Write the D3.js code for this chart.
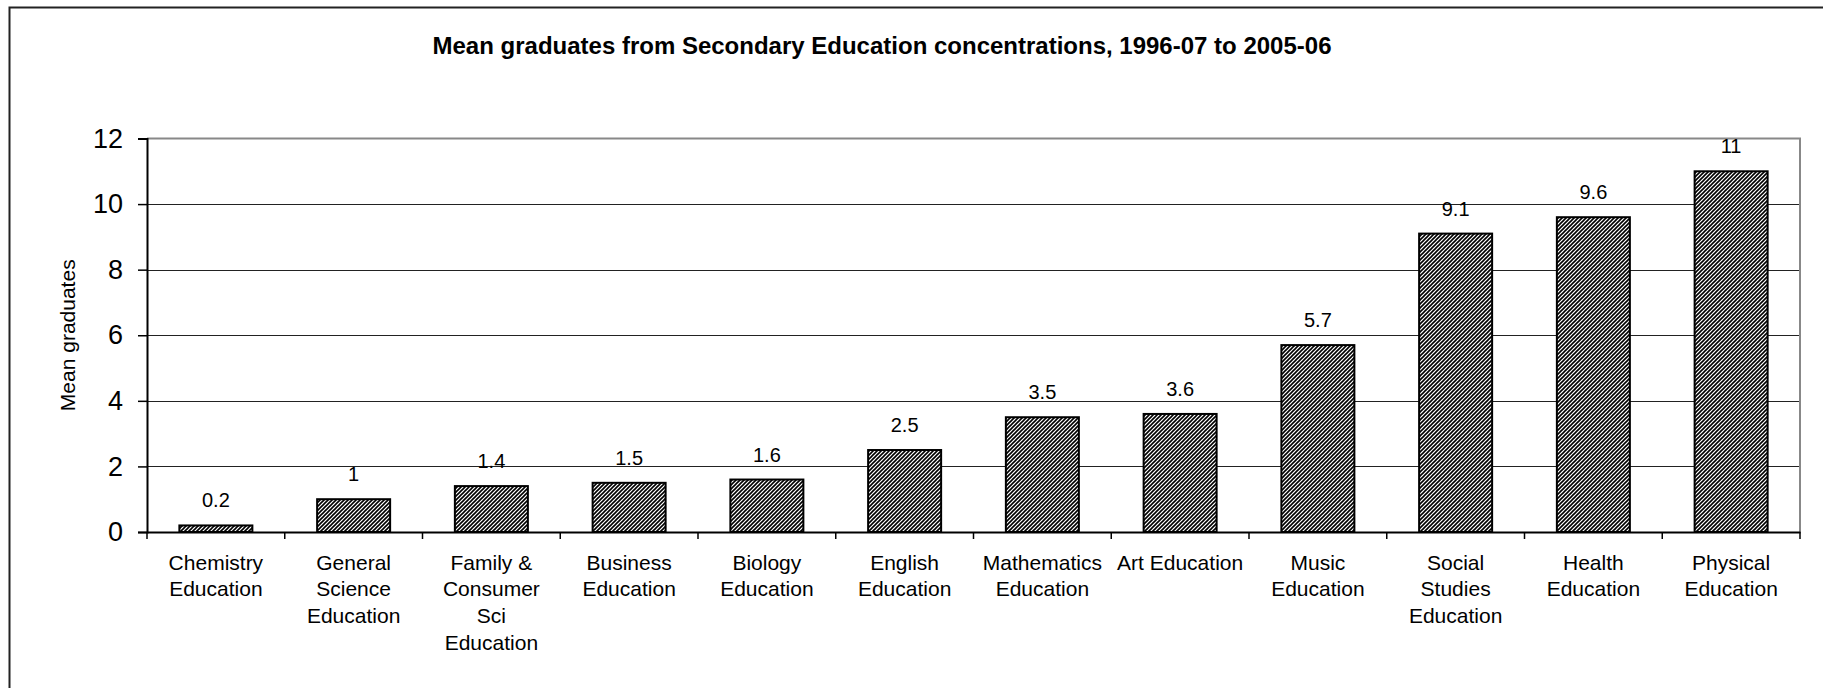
<!DOCTYPE html>
<html>
<head>
<meta charset="utf-8">
<script src="https://cdn.jsdelivr.net/npm/d3@7"></script>
<style>
  html, body { margin: 0; padding: 0; background: #fff; }
  svg { display: block; }
  text { font-family: "Liberation Sans", Arial, sans-serif; fill: #000; }
</style>
</head>
<body>
<svg id="chart" width="1823" height="688"></svg>
<script>
// ---- Data ----
const categories = [
  "Chemistry\nEducation",
  "General\nScience\nEducation",
  "Family &\nConsumer\nSci\nEducation",
  "Business\nEducation",
  "Biology\nEducation",
  "English\nEducation",
  "Mathematics\nEducation",
  "Art Education",
  "Music\nEducation",
  "Social\nStudies\nEducation",
  "Health\nEducation",
  "Physical\nEducation"
];
const values = [0.2, 1, 1.4, 1.5, 1.6, 2.5, 3.5, 3.6, 5.7, 9.1, 9.6, 11];
const valueLabels = ["0.2", "1", "1.4", "1.5", "1.6", "2.5", "3.5", "3.6", "5.7", "9.1", "9.6", "11"];
const yTicks = [0, 2, 4, 6, 8, 10, 12];
const titleText = "Mean graduates from Secondary Education concentrations, 1996-07 to 2005-06";
const yTitle = "Mean graduates";

// ---- Layout ----
const W = 1823, H = 688;
const plot = { left: 147, right: 1800, top: 138.5, bottom: 532 };

const svg = d3.select("#chart");

// pattern
const defs = svg.append("defs");
const pat = defs.append("pattern")
  .attr("id", "hatch")
  .attr("patternUnits", "userSpaceOnUse")
  .attr("width", 4).attr("height", 4);
pat.append("rect").attr("width", 4).attr("height", 4).attr("fill", "#fff");
pat.append("path")
  .attr("d", "M-1,1 L1,-1 M0,4 L4,0 M3,5 L5,3")
  .attr("stroke", "#000").attr("stroke-width", 1.6);

// outer border (left + top visible)
svg.append("path")
  .attr("d", `M9.5,${H} L9.5,7.5 L${W},7.5`)
  .attr("fill", "none").attr("stroke", "#222").attr("stroke-width", 2);

// scales
const x = d3.scaleBand().domain(categories).range([plot.left, plot.right]).padding(0);
const y = d3.scaleLinear().domain([0, 12]).range([plot.bottom, plot.top]);

// gridlines
svg.append("g").selectAll("line")
  .data(yTicks.filter(t => t > 0 && t < 12))
  .join("line")
  .attr("x1", plot.left).attr("x2", plot.right)
  .attr("y1", d => Math.round(y(d)) + 0.5).attr("y2", d => Math.round(y(d)) + 0.5)
  .attr("stroke", "#222").attr("stroke-width", 1);

// plot area border top & right (grey)
svg.append("path")
  .attr("d", `M${plot.left},${y(12)} L${plot.right},${y(12)} L${plot.right},${plot.bottom}`)
  .attr("fill", "none").attr("stroke", "#888").attr("stroke-width", 2);

// bars
const barW = x.bandwidth() * 0.53;
svg.append("g").selectAll("rect")
  .data(values)
  .join("rect")
  .attr("x", (d, i) => x(categories[i]) + (x.bandwidth() - barW) / 2)
  .attr("y", d => y(d))
  .attr("width", barW)
  .attr("height", d => y(0) - y(d))
  .attr("fill", "url(#hatch)")
  .attr("stroke", "#000").attr("stroke-width", 2);

// value labels
svg.append("g").selectAll("text")
  .data(values)
  .join("text")
  .attr("x", (d, i) => x(categories[i]) + x.bandwidth() / 2)
  .attr("y", d => y(d) - 18)
  .attr("text-anchor", "middle")
  .attr("font-size", 20)
  .text((d, i) => valueLabels[i]);

// y axis
const yAxis = d3.axisLeft(y).tickValues(yTicks).tickFormat(d3.format("d")).tickSize(9).tickPadding(15);
const gy = svg.append("g").attr("transform", `translate(${plot.left},0)`).call(yAxis);
gy.select(".domain").attr("stroke", "#000").attr("stroke-width", 2);
gy.selectAll(".tick line").attr("stroke", "#000").attr("stroke-width", 1.5);
gy.selectAll(".tick text").attr("font-size", 27).attr("font-family", "Liberation Sans, Arial, sans-serif").attr("fill", "#000");

// x axis
const xAxis = d3.axisBottom(x).tickSize(0).tickFormat("");
const gx = svg.append("g").attr("transform", `translate(0,${plot.bottom})`).call(xAxis);
gx.select(".domain").attr("stroke", "#000").attr("stroke-width", 2);
gx.selectAll(".tick").remove();
// category boundary ticks
const bounds = categories.map(c => x(c)).concat([plot.right]);
svg.append("g").selectAll("line")
  .data(bounds)
  .join("line")
  .attr("x1", d => d).attr("x2", d => d)
  .attr("y1", plot.bottom).attr("y2", plot.bottom + 7)
  .attr("stroke", "#000").attr("stroke-width", 1.5);

// category labels
const lblG = svg.append("g");
categories.forEach(c => {
  const t = lblG.append("text")
    .attr("x", x(c) + x.bandwidth() / 2)
    .attr("y", 569.5)
    .attr("text-anchor", "middle")
    .attr("font-size", 21);
  c.split("\n").forEach((line, i) => {
    t.append("tspan").attr("x", x(c) + x.bandwidth() / 2).attr("dy", i === 0 ? 0 : 26.7).text(line);
  });
});

// title
svg.append("text")
  .attr("x", 882).attr("y", 54)
  .attr("text-anchor", "middle")
  .attr("font-size", 24).attr("font-weight", "bold")
  .text(titleText);

// y axis title
svg.append("text")
  .attr("transform", `translate(75,${(plot.top + plot.bottom) / 2}) rotate(-90)`)
  .attr("text-anchor", "middle")
  .attr("font-size", 21)
  .text(yTitle);
</script>
</body>
</html>
